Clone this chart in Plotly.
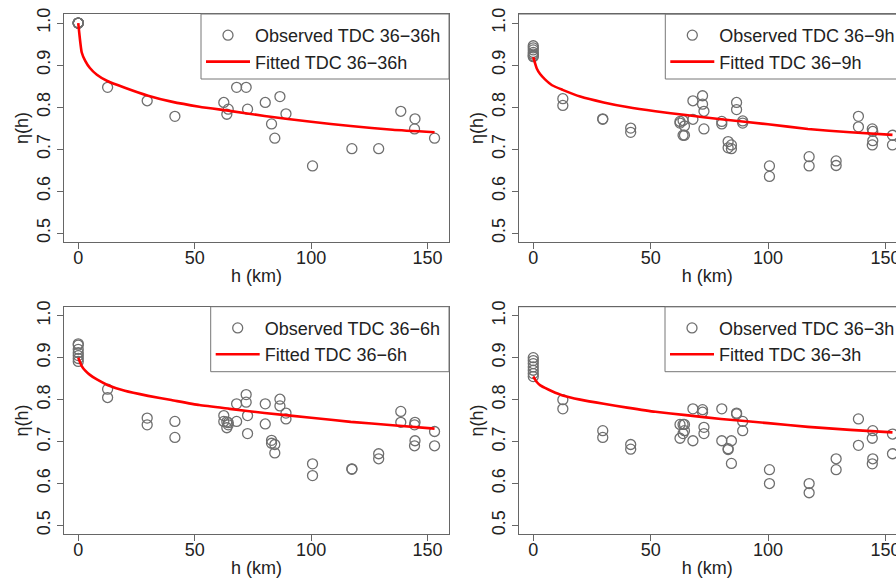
import plotly.graph_objects as go

# distances of the 21 station pairs (km)
dist = [12.6, 29.6, 41.5, 62.5, 63.8, 64.4, 68.0, 72.1, 72.7, 80.3, 83.0,
        84.4, 86.6, 89.2, 100.6, 117.5, 129.0, 138.5, 144.4, 144.6, 153.0]

# observed TDC, lag 0 (h = 0) and pairs
zero_36h = [1.0, 1.0, 1.0, 1.0, 1.0, 1.0, 1.0]
obs_36h = [0.847, 0.815, 0.778, 0.811, 0.783, 0.795, 0.847, 0.847, 0.795, 0.811, 0.760,
           0.726, 0.825, 0.784, 0.660, 0.701, 0.701, 0.790, 0.748, 0.772, 0.726]

zero_9h = [0.946, 0.941, 0.936, 0.930, 0.926, 0.922, 0.920]
obs_9h_a = [0.820, 0.772, 0.750, 0.766, 0.768, 0.755, 0.815, 0.827, 0.790, 0.766, 0.718,
            0.710, 0.811, 0.767, 0.660, 0.682, 0.672, 0.778, 0.748, 0.742, 0.733]
obs_9h_b = [0.804, 0.771, 0.740, 0.762, 0.733, 0.733, 0.771, 0.807, 0.748, 0.760, 0.703,
            0.701, 0.794, 0.762, 0.635, 0.660, 0.661, 0.753, 0.710, 0.720, 0.710]

zero_6h = [0.933, 0.930, 0.920, 0.912, 0.905, 0.898, 0.891]
obs_6h_a = [0.825, 0.756, 0.748, 0.762, 0.747, 0.745, 0.790, 0.812, 0.762, 0.790, 0.703,
            0.693, 0.801, 0.768, 0.647, 0.635, 0.671, 0.772, 0.740, 0.746, 0.724]
obs_6h_b = [0.805, 0.740, 0.710, 0.748, 0.733, 0.740, 0.748, 0.794, 0.719, 0.742, 0.696,
            0.673, 0.785, 0.754, 0.619, 0.634, 0.659, 0.746, 0.690, 0.702, 0.690]

zero_3h = [0.900, 0.893, 0.886, 0.878, 0.870, 0.862, 0.855]
obs_3h_a = [0.800, 0.726, 0.693, 0.741, 0.741, 0.741, 0.778, 0.776, 0.734, 0.778, 0.683,
            0.702, 0.768, 0.748, 0.633, 0.600, 0.659, 0.754, 0.708, 0.726, 0.718]
obs_3h_b = [0.778, 0.710, 0.682, 0.708, 0.719, 0.726, 0.702, 0.770, 0.719, 0.702, 0.681,
            0.648, 0.766, 0.726, 0.600, 0.578, 0.633, 0.691, 0.647, 0.659, 0.671]

# fitted curves
fit_h = [0, 1.5, 3, 5, 8, 12.5, 20, 30, 40, 52, 65, 80, 100, 117, 135, 153]
fit_36h = [1.0, 0.930, 0.910, 0.893, 0.877, 0.862, 0.846, 0.827, 0.813, 0.801,
           0.791, 0.779, 0.765, 0.755, 0.746, 0.740]
fit_9h = [0.919, 0.892, 0.878, 0.866, 0.852, 0.841, 0.825, 0.811, 0.800, 0.790,
          0.781, 0.771, 0.759, 0.748, 0.740, 0.734]
fit_6h = [0.900, 0.880, 0.869, 0.859, 0.848, 0.835, 0.821, 0.809, 0.799, 0.787,
          0.778, 0.768, 0.757, 0.747, 0.739, 0.731]
fit_3h = [0.855, 0.842, 0.834, 0.828, 0.820, 0.810, 0.800, 0.790, 0.781, 0.771,
          0.763, 0.754, 0.744, 0.735, 0.728, 0.722]

W, H = 896, 582
FONT = "Liberation Sans"


def fx(p):
    return p / W


def fy(p):
    return 1 - p / H


panels = [
    dict(lag="36\u221236h", zero=zero_36h, obs=[obs_36h], fit=fit_36h,
         box=(64, 449, 14, 242), xr=[-6.12, 159.2], leg=(201, 449)),
    dict(lag="36\u22129h", zero=zero_9h, obs=[obs_9h_a, obs_9h_b], fit=fit_9h,
         box=(518.7, 896, 14, 242), xr=[-6.2, 154.5], leg=(665.3, 903.7)),
    dict(lag="36\u22126h", zero=zero_6h, obs=[obs_6h_a, obs_6h_b], fit=fit_6h,
         box=(64, 449, 306.7, 534.3), xr=[-6.12, 159.2], leg=(210.7, 449)),
    dict(lag="36\u22123h", zero=zero_3h, obs=[obs_3h_a, obs_3h_b], fit=fit_3h,
         box=(518.7, 896, 306.7, 534.3), xr=[-6.2, 154.5], leg=(665, 903.7)),
]

fig = go.Figure()
shapes = []
layout = {}

for i, p in enumerate(panels, start=1):
    sfx = "" if i == 1 else str(i)
    legid = "legend" if i == 1 else "legend%d" % i
    xs = [0] * len(p["zero"])
    ys = list(p["zero"])
    for o in p["obs"]:
        xs += dist
        ys += o
    fig.add_trace(go.Scatter(
        x=xs, y=ys, mode="markers", name="Observed TDC " + p["lag"],
        marker=dict(symbol="circle-open", size=10, color="#6f6f6f",
                    line=dict(width=1.3, color="#6f6f6f")),
        xaxis="x" + sfx, yaxis="y" + sfx, legend=legid))
    fig.add_trace(go.Scatter(
        x=fit_h, y=p["fit"], mode="lines", name="Fitted TDC " + p["lag"],
        line=dict(color="#ff0000", width=2.6, shape="spline", smoothing=0.5),
        xaxis="x" + sfx, yaxis="y" + sfx, legend=legid))

    l, r, t, b = p["box"]
    layout["xaxis" + sfx] = dict(
        domain=[fx(l), min(1.0, fx(r))], range=p["xr"], anchor="y" + sfx,
        tickvals=[0, 50, 100, 150], ticks="outside", ticklen=6, tickcolor="#666",
        ticklabelstandoff=-7, ticklabeloverflow="allow",
        showline=True, linecolor="#666", linewidth=1, mirror=True,
        showgrid=False, zeroline=False,
        tickfont=dict(size=18, color="#222", family=FONT),
        title=dict(text="h (km)", font=dict(size=18, color="#222", family=FONT), standoff=2))
    layout["yaxis" + sfx] = dict(
        domain=[fy(b), fy(t)], range=[0.479, 1.0215], anchor="x" + sfx,
        tickvals=[0.5, 0.6, 0.7, 0.8, 0.9, 1.0], ticktext=["0.5", "0.6", "0.7", "0.8", "0.9", "1.0"],
        tickangle=-90, ticks="outside", ticklen=6, tickcolor="#666",
        showline=True, linecolor="#666", linewidth=1, mirror=(i % 2 == 1),
        showgrid=False, zeroline=False,
        tickfont=dict(size=18, color="#222", family=FONT),
        title=dict(text="\u03b7(h)", font=dict(size=18, color="#222", family=FONT), standoff=0))
    if i % 2 == 0:
        # the right panels are cut off by the image edge: only their top line shows
        shapes.append(dict(type="line", xref="paper", yref="paper",
                           x0=fx(l), x1=1.0, y0=fy(t), y1=fy(t),
                           line=dict(color="#666", width=1)))

    ll, lr = p["leg"]
    shapes.append(dict(type="rect", xref="paper", yref="paper",
                       x0=fx(ll), x1=fx(lr), y0=fy(t + 65), y1=fy(t),
                       line=dict(color="#777", width=1), fillcolor="rgba(0,0,0,0)"))
    layout[legid] = dict(
        x=fx(ll), y=fy(t + 3), xanchor="left", yanchor="top",
        bgcolor="rgba(0,0,0,0)", borderwidth=0, itemwidth=44,
        font=dict(size=18, color="#222", family=FONT), tracegroupgap=0)

fig.update_layout(
    width=W, height=H,
    margin=dict(l=0, r=0, t=0, b=0, autoexpand=False),
    paper_bgcolor="white", plot_bgcolor="white",
    font=dict(family=FONT, size=18, color="#222"),
    shapes=shapes,
    **layout)

fig.write_html("out.html", config={"displayModeBar": False},
               post_script="document.body.style.margin='0';document.body.style.overflow='hidden';")
